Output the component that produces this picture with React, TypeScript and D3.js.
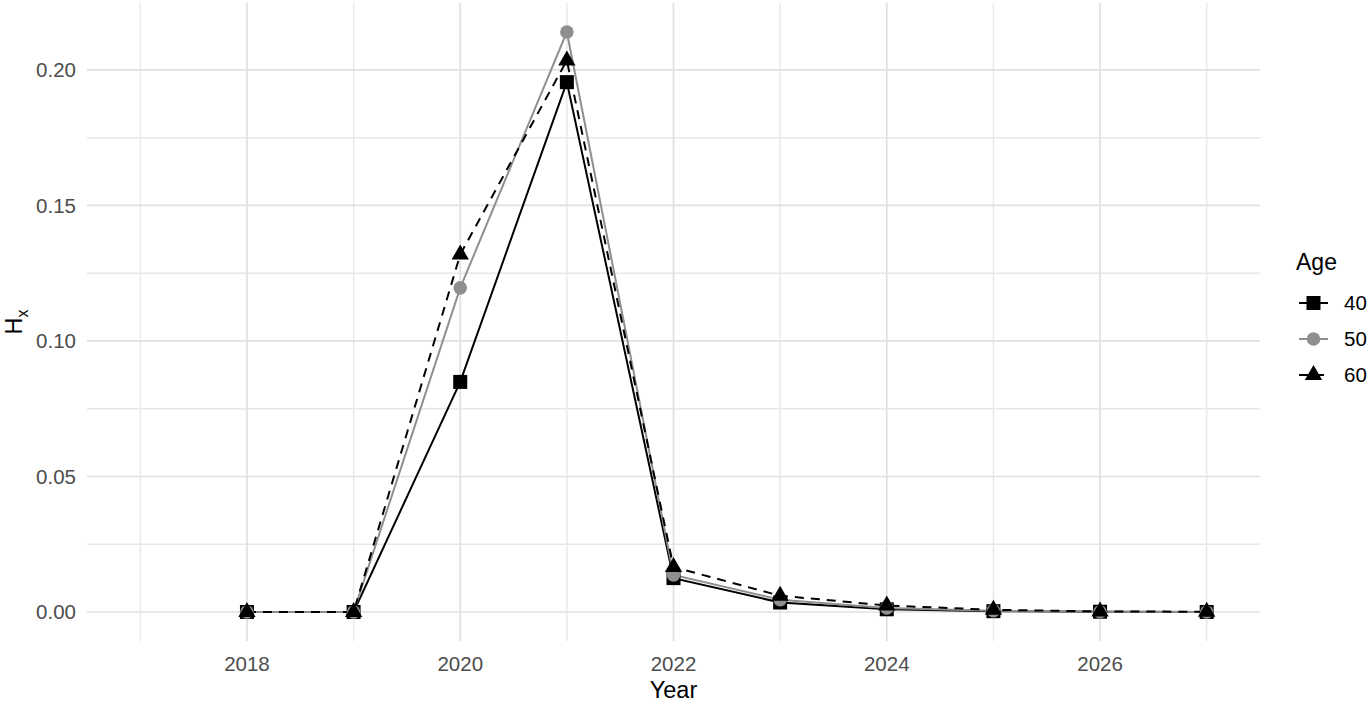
import React from "react";
import * as d3 from "d3";

const years = [2018, 2019, 2020, 2021, 2022, 2023, 2024, 2025, 2026, 2027];
const age40 = [0, 0, 0.0849, 0.1955, 0.0125, 0.0035, 0.0010, 0.0003, 0.0001, 0];
const age50 = [0, 0, 0.1196, 0.2140, 0.0137, 0.0045, 0.0015, 0.0005, 0.0001, 0];
const age60 = [0, 0, 0.1319, 0.2035, 0.0166, 0.0060, 0.0024, 0.0008, 0.0002, 0.0001];
const ageLabels = ["40", "50", "60"];
const xTicks = [2018, 2020, 2022, 2024, 2026];
const xMinor = [2017, 2019, 2021, 2023, 2025, 2027];
const yTicks = [0, 0.05, 0.1, 0.15, 0.2];
const yMinor = [0.025, 0.075, 0.125, 0.175];

const W = 1370;
const H = 702;
const panel = { left: 87, right: 1260, top: 3, bottom: 641 };
const FONT = "'Liberation Sans', Arial, Helvetica, sans-serif";

type Series = { label: string; values: number[]; color: string; dash?: string; shape: "square" | "circle" | "triangle" };

const series: Series[] = [
  { label: ageLabels[0], values: age40, color: "#000000", shape: "square" },
  { label: ageLabels[1], values: age50, color: "#8f8f8f", shape: "circle" },
  { label: ageLabels[2], values: age60, color: "#000000", dash: "9,7", shape: "triangle" },
];

function Marker({ shape, x, y, color }: { shape: string; x: number; y: number; color: string }) {
  if (shape === "square") {
    const s = 14;
    return <rect x={x - s / 2} y={y - s / 2} width={s} height={s} fill={color} />;
  }
  if (shape === "circle") {
    return <circle cx={x} cy={y} r={6.8} fill={color} />;
  }
  const r = 10;
  const pts = [
    [x, y - r],
    [x + r * 0.866, y + r * 0.5],
    [x - r * 0.866, y + r * 0.5],
  ];
  return <polygon points={pts.map((p) => p.join(",")).join(" ")} fill={color} />;
}

export default function App() {
  const xDomainMax = d3.max(years)! + 0.5;
  const xDomainMin = 2016.5;
  const yMax = d3.max([...age40, ...age50, ...age60])!;
  const yExp = yMax * 0.05;

  const x = d3.scaleLinear().domain([xDomainMin, xDomainMax]).range([panel.left, panel.right]);
  const y = d3.scaleLinear().domain([-yExp, yMax + yExp]).range([panel.bottom, panel.top]);

  const line = d3
    .line<number>()
    .x((_, i) => x(years[i]))
    .y((d) => y(d));

  const tickFmt = d3.format(".2f");

  const legendX = 1296;
  const legendKeyY = [303, 339, 375];

  return (
    <svg
      width={W}
      height={H}
      style={{ position: "absolute", left: 0, top: 0, background: "#ffffff" }}
      fontFamily={FONT}
    >
      <rect x={0} y={0} width={W} height={H} fill="#ffffff" />
      {/* minor grid */}
      {yMinor.map((t) => (
        <line key={"ym" + t} x1={panel.left} x2={panel.right} y1={y(t)} y2={y(t)} stroke="#e8e8e8" strokeWidth={1.4} />
      ))}
      {xMinor.map((t) => (
        <line key={"xm" + t} x1={x(t)} x2={x(t)} y1={panel.top} y2={panel.bottom} stroke="#e8e8e8" strokeWidth={1.4} />
      ))}
      {/* major grid */}
      {yTicks.map((t) => (
        <line key={"yM" + t} x1={panel.left} x2={panel.right} y1={y(t)} y2={y(t)} stroke="#e0e0e0" strokeWidth={1.7} />
      ))}
      {xTicks.map((t) => (
        <line key={"xM" + t} x1={x(t)} x2={x(t)} y1={panel.top} y2={panel.bottom} stroke="#e0e0e0" strokeWidth={1.7} />
      ))}

      {/* lines */}
      {series.map((s) => (
        <path
          key={"l" + s.label}
          d={line(s.values) || ""}
          fill="none"
          stroke={s.color}
          strokeWidth={2}
          strokeDasharray={s.dash}
        />
      ))}
      {/* points */}
      {series.map((s) =>
        s.values.map((v, i) => (
          <Marker key={"p" + s.label + i} shape={s.shape} x={x(years[i])} y={y(v)} color={s.color} />
        ))
      )}

      {/* y tick labels */}
      {yTicks.map((t) => (
        <text
          key={"yt" + t}
          x={76}
          y={y(t)}
          dy="0.35em"
          textAnchor="end"
          fontSize={20.5}
          fill="#4d4d4d"
        >
          {tickFmt(t)}
        </text>
      ))}
      {/* x tick labels */}
      {xTicks.map((t) => (
        <text key={"xt" + t} x={x(t)} y={671} textAnchor="middle" fontSize={20.5} fill="#4d4d4d">
          {t}
        </text>
      ))}

      {/* axis titles */}
      <text x={(panel.left + panel.right) / 2} y={698} textAnchor="middle" fontSize={23.5} fill="#000">
        Year
      </text>
      <text transform={`translate(22, ${(panel.top + panel.bottom) / 2}) rotate(-90)`} textAnchor="middle" fontSize={23.5} fill="#000">
        H
        <tspan fontSize={16} dy={6}>
          x
        </tspan>
      </text>

      {/* legend */}
      <text x={legendX} y={270} fontSize={23} fill="#000">
        Age
      </text>
      {series.map((s, i) => (
        <g key={"lg" + s.label}>
          <line
            x1={1299}
            x2={1328}
            y1={legendKeyY[i]}
            y2={legendKeyY[i]}
            stroke={s.color}
            strokeWidth={2}
            strokeDasharray={s.dash}
          />
          <Marker shape={s.shape} x={1313.5} y={legendKeyY[i]} color={s.color} />
          <text x={1344} y={legendKeyY[i]} dy="0.35em" fontSize={20.5} fill="#000">
            {s.label}
          </text>
        </g>
      ))}
    </svg>
  );
}
